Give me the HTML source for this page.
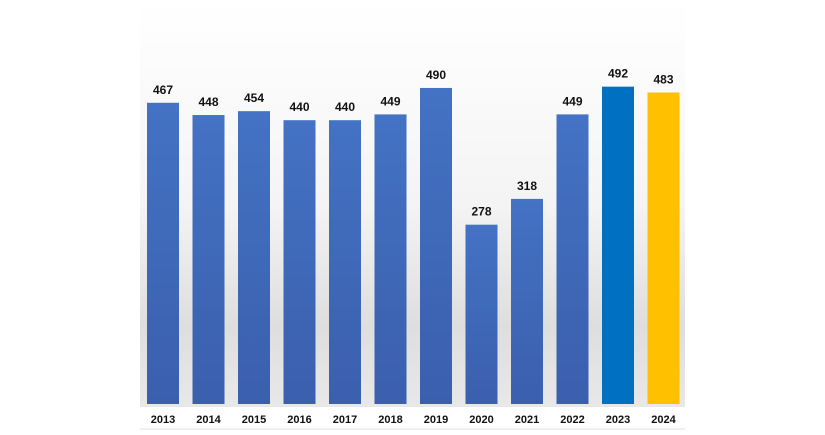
<!DOCTYPE html>
<html><head><style>
body{margin:0;width:825px;height:430px;background:#fff;overflow:hidden;font-family:"Liberation Sans",sans-serif}
</style></head><body>
<svg id="chart" width="825" height="430" xmlns="http://www.w3.org/2000/svg">
<defs>
<linearGradient id="bg" x1="0" y1="0" x2="0" y2="1">
<stop offset="0" stop-color="#ffffff"/><stop offset="0.5" stop-color="#f4f4f4"/><stop offset="0.8" stop-color="#dedede"/><stop offset="1" stop-color="#e8e8e8"/>
</linearGradient>
<linearGradient id="blue" x1="0" y1="0" x2="0" y2="1"><stop offset="0" stop-color="#4472c4"/><stop offset="1" stop-color="#3a5fad"/></linearGradient>
</defs>
<rect x="140" y="0" width="545" height="407" fill="url(#bg)"/>
<line x1="140" y1="429" x2="685" y2="429" stroke="#e0e0e0"/>
<g id="bars"></g>
</svg>
<script>
const categories=["2013","2014","2015","2016","2017","2018","2019","2020","2021","2022","2023","2024"];
const values=[467,448,454,440,440,449,490,278,318,449,492,483];
const colors=["b","b","b","b","b","b","b","b","b","b","#0070c0","#ffc000"];
const NS="http://www.w3.org/2000/svg";
const base=404, scale=0.645, x0=147, step=45.5, bw=32;
function xPos(i){return x0+i*step;}
function yPos(v){return base-v*scale;}
const g=document.getElementById('bars');
categories.forEach((c,i)=>{
  const r=document.createElementNS(NS,'rect');
  
  
  r.setAttribute('x',xPos(i));r.setAttribute('y',yPos(values[i]));
  r.setAttribute('width',bw);r.setAttribute('height',base-yPos(values[i]));
  r.setAttribute('fill',colors[i]==='b'?'url(#blue)':colors[i]);
  g.appendChild(r);
  const t=document.createElementNS(NS,'text');
  
  
  t.setAttribute('x',xPos(i)+bw/2);t.setAttribute('y',yPos(values[i])-9);
  t.setAttribute('text-anchor','middle');t.setAttribute('font-size','12');t.setAttribute('font-weight','bold');t.setAttribute('fill','#111');
  t.textContent=values[i];g.appendChild(t);
  const l=document.createElementNS(NS,'text');
  
  
  l.setAttribute('x',xPos(i)+bw/2);l.setAttribute('y',423);
  l.setAttribute('text-anchor','middle');l.setAttribute('font-size','11');l.setAttribute('font-weight','bold');l.setAttribute('fill','#111');
  l.textContent=c;g.appendChild(l);
});
</script>
</body></html>
